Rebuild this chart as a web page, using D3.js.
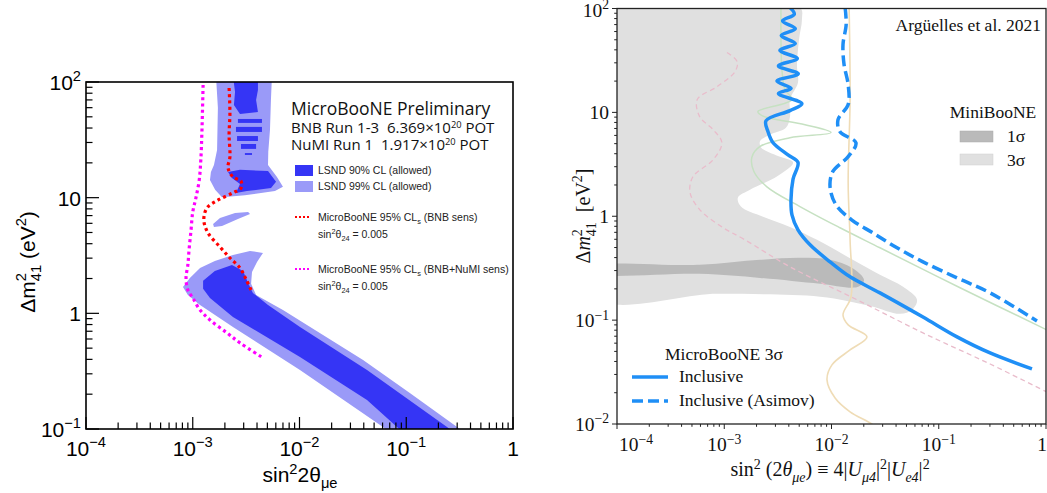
<!DOCTYPE html>
<html><head><meta charset="utf-8">
<script src="https://cdn.jsdelivr.net/npm/d3@7"></script>
<style>body{margin:0;background:#fff}svg{display:block}</style>
</head><body>
<svg id="c" width="1047" height="493"></svg>
<script>
// ================= DATA (left panel: MicroBooNE preliminary) =================
const leftXTicks = [1e-4, 1e-3, 1e-2, 1e-1, 1];
const leftXLabels = [["10","−4"],["10","−3"],["10","−2"],["10","−1"],["1",""]];
const leftYTicks = [0.1, 1, 10, 100];
const leftYLabels = [["10","−1"],["1",""],["10",""],["10","2"]];

// LSND 99% CL allowed (light) regions  [sin^2 2theta, dm2]
const lsnd99Lower = [[8.1e-4,1.69],[9.4e-4,2.02],[1.17e-3,2.47],[1.61e-3,2.84],[2.38e-3,3.2],[3.44e-3,3.46],[4.55e-3,3.33],[4.0e-3,2.78],[3.59e-3,2.28],[3.52e-3,1.80],[3.92e-3,1.44],[7.0e-3,1.07],[3.94e-2,0.395],[0.108,0.205],[0.318,0.1],[0.547,0.0715],[0.097,0.0715],[0.0605,0.104],[0.0101,0.324],[2.38e-3,0.762],[1.17e-3,1.18],[9.0e-4,1.44]];
const lsnd99Upper = [[1.65e-3,113],[5.52e-3,113],[5.4e-3,70],[5.29e-3,38.5],[5.1e-3,25],[5.07e-3,19.2],[6.15e-3,15.1],[7.0e-3,12.4],[5.89e-3,11.4],[3.08e-3,10.5],[1.88e-3,10.1],[1.62e-3,11.7],[1.45e-3,14.2],[1.48e-3,16.7],[1.58e-3,19.2],[1.69e-3,25.8],[1.72e-3,60]];
const lsnd99Island = [[1.55e-3,5.93],[1.80e-3,6.68],[2.49e-3,7.38],[3.30e-3,7.52],[3.44e-3,7.23],[2.65e-3,6.55],[1.88e-3,5.69],[1.58e-3,5.58]];
// LSND 90% CL allowed (dark) regions
const lsnd90Lower = [[1.25e-3,1.91],[1.61e-3,2.32],[2.33e-3,2.62],[2.96e-3,2.32],[3.30e-3,1.83],[3.66e-3,1.50],[5.07e-3,1.18],[1.01e-2,0.762],[4.29e-2,0.324],[0.241,0.104],[0.413,0.0715],[0.129,0.0715],[0.0819,0.104],[4.29e-2,0.178],[1.01e-2,0.42],[2.38e-3,0.93],[1.45e-3,1.36],[1.25e-3,1.63]];
const lsnd90Top = [[2.38e-3,113],[4.08e-3,113],[4.08e-3,85.3],[3.92e-3,69.8],[4.08e-3,55.1],[2.77e-3,52.8],[2.43e-3,63.2],[2.49e-3,82.0]];
const lsnd90Blob = [[2.14e-3,16.7],[2.77e-3,17.4],[5.07e-3,17.0],[6.03e-3,13.7],[5.41e-3,12.1],[3.22e-3,11.4],[2.54e-3,11.0],[2.77e-3,13.1],[2.33e-3,14.8]];
// dark horizontal stripes: [xmin, xmax, ymin, ymax]
const lsnd90Stripes = [[2.65e-3,4.45e-3,44.3,47.9],[2.54e-3,4.45e-3,37.0,40.9],[2.60e-3,4.08e-3,30.9,34.1],[2.83e-3,3.92e-3,26.4,29.1],[3.08e-3,3.59e-3,23.4,24.3]];
// MicroBooNE 95% CLs sensitivities
const bnbSens = [[2.19e-3,88.7],[2.23e-3,54.0],[2.19e-3,34.9],[2.23e-3,22.5],[2.14e-3,18.1],[2.38e-3,15.1],[2.83e-3,13.9],[2.83e-3,12.1],[2.38e-3,11.0],[1.73e-3,9.55],[1.36e-3,8.15],[1.27e-3,6.41],[1.39e-3,4.95],[1.80e-3,3.75],[2.23e-3,3.01],[2.77e-3,2.47],[3.15e-3,1.98],[3.52e-3,1.59]];
const bnbNumiSens = [[1.25e-3,94.2],[1.22e-3,38.5],[1.19e-3,21.2],[1.15e-3,14.2],[1.07e-3,9.93],[1.0e-3,7.52],[9.64e-4,5.26],[9.23e-4,3.53],[9.0e-4,2.62],[8.65e-4,2.02],[9.0e-4,1.59],[1.0e-3,1.36],[1.17e-3,1.07],[1.45e-3,0.877],[2.09e-3,0.678],[2.77e-3,0.555],[4.55e-3,0.412]];
const leftHeader = ["MicroBooNE Preliminary","BNB Run 1-3\u00a0\u00a06.369×10","NuMI Run 1\u00a0\u00a01.917×10"];
const leftLegend = ["LSND 90% CL (allowed)","LSND 99% CL (allowed)","MicroBooNE 95% CL","(BNB sens)","(BNB+NuMI sens)"];

// ================= DATA (right panel: Argüelles et al. 2021) =================
const rightXTicks = [1e-4, 1e-3, 1e-2, 1e-1, 1];
const rightXLabels = [["10","−4"],["10","−3"],["10","−2"],["10","−1"],["1",""]];
const rightYTicks = [1e-2, 1e-1, 1, 10, 100];
const rightYLabels = [["10","−2"],["10","−1"],["1",""],["10",""],["10","2"]];
const mb3sigma = [[5e-5,102],[5.08e-3,102],[5.3e-3,78.3],[4.98e-3,50.3],[4.77e-3,27.6],[4.87e-3,19.4],[4.1e-3,13.3],[4.1e-3,9.1],[3.76e-3,7.1],[2.67e-3,6.1],[2.16e-3,5.3],[2.2e-3,4.6],[3.17e-3,3.8],[4.38e-3,3.3],[3.17e-3,2.45],[1.74e-3,1.8],[1.34e-3,1.51],[1.43e-3,1.24],[2.3e-3,0.99],[4.1e-3,0.79],[7.33e-3,0.593],[1.58e-2,0.381],[2.83e-2,0.273],[4.65e-2,0.209],[6.27e-2,0.157],[5.63e-2,0.126],[4.36e-2,0.115],[2.29e-2,0.137],[7.82e-3,0.168],[9.1e-4,0.179],[5e-5,0.183]];
const mb1sigma = [[5e-5,0.326],[5.9e-4,0.341],[2.16e-3,0.381],[5.08e-3,0.398],[9.69e-3,0.381],[1.55e-2,0.319],[2.01e-2,0.244],[1.77e-2,0.209],[7.82e-3,0.224],[2.16e-3,0.255],[5.9e-4,0.279],[5e-5,0.285]];
const inclusive = [[4.1e-3,102],[4.5e-3,88],[3.5e-3,76],[4.6e-3,64],[3.4e-3,55],[4.6e-3,46],[3.3e-3,39.5],[4.8e-3,33],[3.2e-3,28],[4.9e-3,23.5],[3.1e-3,20],[4.2e-3,17],[3.2e-3,15.2],[5.3e-3,12.1],[4.1e-3,10.4],[2.45e-3,8.3],[2.56e-3,6.5],[2.85e-3,5.1],[3.93e-3,3.9],[4.87e-3,3.3],[4.38e-3,2.28],[4.19e-3,1.44],[4.28e-3,1.03],[4.87e-3,0.74],[6.31e-3,0.531],[9.69e-3,0.364],[1.49e-2,0.261],[2.83e-2,0.183],[7.13e-2,0.107],[0.148,0.069],[0.301,0.0483],[0.74,0.0339]];
const inclusiveAsimov = [[1.34e-2,102],[1.37e-2,70.1],[1.28e-2,45],[1.31e-2,28.8],[1.43e-2,18.5],[1.43e-2,11.9],[1.15e-2,8.5],[1.2e-2,6.5],[1.69e-2,5.1],[1.43e-2,3.75],[1.03e-2,2.7],[9.69e-3,1.92],[1.1e-2,1.29],[1.55e-2,0.92],[2.44e-2,0.69],[4.08e-2,0.497],[7.13e-2,0.364],[0.148,0.255],[0.301,0.183],[0.824,0.098]];
const faintGreen = [[3.38e-3,102],[3.38e-3,50.3],[3.45e-3,25.8],[3.68e-3,16.6],[4.28e-3,13.3],[2.06e-3,10.2],[2.25e-3,9.3],[5.66e-3,7.6],[9.89e-3,6.4],[4.1e-3,5.7],[2.16e-3,4.7],[1.81e-3,3.7],[1.89e-3,2.7],[2.5e-3,1.92],[5.08e-3,1.24],[1.2e-2,0.775],[2.83e-2,0.497],[0.158,0.205],[1.02,0.0805]];
const faintPink = [[1.06e-3,37.7],[1.32e-3,30.8],[1.26e-3,24.7],[8.6e-4,17.7],[5.6e-4,13.3],[5.9e-4,9.1],[7.9e-4,6.8],[9.5e-4,5.1],[7.9e-4,3.51],[5.1e-4,2.4],[4.8e-4,1.69],[5.9e-4,1.16],[9.5e-4,0.79],[1.56e-3,0.593],[4.1e-3,0.326],[1.73e-2,0.157],[7.13e-2,0.0753],[0.301,0.0378],[1.02,0.0203]];
const faintTan = [[1.46e-2,102],[1.49e-2,13.3],[1.43e-2,2.1],[1.49e-2,0.593],[1.52e-2,0.168],[1.28e-2,0.112],[1.43e-2,0.09],[2.14e-2,0.069],[1.49e-2,0.0517],[1.01e-2,0.0371],[9.08e-3,0.0266],[1.08e-2,0.0178],[1.49e-2,0.0131],[2.44e-2,0.0098],[2.83e-2,0.0084]];
const rightLegendTop = ["MiniBooNE","1σ","3σ"];
const rightLegendBottom = ["MicroBooNE 3σ","Inclusive","Inclusive (Asimov)"];
const citation = "Argüelles et al. 2021";

// ================= helpers =================
const svg = d3.select('#c');
const SANS = "'Liberation Sans', Arial, sans-serif";
const SERIF = "'Liberation Serif', 'Times New Roman', serif";
function rich(t, parts, base) {
  let shift = 0;
  parts.forEach(p => {
    const target = p.s === 'sup' ? -base*(p.r || 0.42) : p.s === 'sub' ? base*0.28 : 0;
    const ts = t.append('tspan').text(p.t);
    if (target - shift !== 0) ts.attr('dy', target - shift);
    if (p.dx) ts.attr('dx', p.dx);
    if (p.s) ts.attr('font-size', base*(p.k || 0.7));
    if (p.i) ts.attr('font-style', 'italic');
    shift = target;
  });
  return t;
}
const isMajor = v => Math.abs(Math.log10(v) - Math.round(Math.log10(v))) < 1e-6;

// ================= LEFT PANEL =================
const xL = d3.scaleLog().domain([1e-4, 1]).range([86, 513]);
const yL = d3.scaleLog().domain([0.1, 100]).range([429, 82]);
svg.append('clipPath').attr('id','clipL').append('rect')
  .attr('x', xL.range()[0]).attr('y', yL.range()[1])
  .attr('width', xL.range()[1]-xL.range()[0]).attr('height', yL.range()[0]-yL.range()[1]);
const gL = svg.append('g').attr('clip-path','url(#clipL)');
const polyL = d3.line().x(d=>xL(d[0])).y(d=>yL(d[1])).curve(d3.curveLinearClosed);
const lineL = d3.line().x(d=>xL(d[0])).y(d=>yL(d[1])).curve(d3.curveCatmullRom.alpha(0.5));
const LIGHT = '#9a9af8', DARK = '#3535f5';
[lsnd99Lower, lsnd99Upper, lsnd99Island].forEach(p => gL.append('path').attr('d', polyL(p)).attr('fill', LIGHT));
[lsnd90Lower, lsnd90Top, lsnd90Blob].forEach(p => gL.append('path').attr('d', polyL(p)).attr('fill', DARK));
gL.selectAll('rect.stripe').data(lsnd90Stripes).join('rect').attr('class','stripe')
  .attr('x', d=>xL(d[0])).attr('width', d=>xL(d[1])-xL(d[0]))
  .attr('y', d=>yL(d[3])).attr('height', d=>yL(d[2])-yL(d[3])).attr('fill', DARK);
gL.append('path').attr('d', lineL(bnbSens)).attr('fill','none').attr('stroke','#ff0000')
  .attr('stroke-width',3.2).attr('stroke-dasharray','3,3.2');
gL.append('path').attr('d', lineL(bnbNumiSens)).attr('fill','none').attr('stroke','#ff00ff')
  .attr('stroke-width',3.2).attr('stroke-dasharray','3,3.2');

// frame + ticks
svg.append('rect').attr('x',86).attr('y',82).attr('width',427).attr('height',347)
  .attr('fill','none').attr('stroke','#000').attr('stroke-width',1.6);
const tl = svg.append('g').attr('stroke','#000').attr('stroke-width',1.2);
yL.ticks().forEach(v => {
  const len = isMajor(v) ? 13 : 6.5;
  tl.append('line').attr('x1',86).attr('x2',86+len).attr('y1',yL(v)).attr('y2',yL(v));
});
xL.ticks().forEach(v => {
  const len = isMajor(v) ? 12 : 6.5;
  tl.append('line').attr('x1',xL(v)).attr('x2',xL(v)).attr('y1',429).attr('y2',429-len);
});
leftYTicks.forEach((v,i) => {
  const t = svg.append('text').attr('x',81).attr('y',yL(v)+8).attr('text-anchor','end')
    .attr('font-family',SANS).attr('font-size',21).attr('fill','#000');
  const parts = [{t:leftYLabels[i][0]}];
  if (leftYLabels[i][1]) parts.push({t:leftYLabels[i][1], s:'sup'});
  rich(t, parts, 21);
});
leftXTicks.forEach((v,i) => {
  const t = svg.append('text').attr('x',xL(v)).attr('y',456).attr('text-anchor','middle')
    .attr('font-family',SANS).attr('font-size',21).attr('fill','#000');
  const parts = [{t:leftXLabels[i][0]}];
  if (leftXLabels[i][1]) parts.push({t:leftXLabels[i][1], s:'sup'});
  rich(t, parts, 21);
});
// axis titles
rich(svg.append('text').attr('x',300).attr('y',482).attr('text-anchor','middle')
  .attr('font-family',SANS).attr('font-size',21),
  [{t:'sin'},{t:'2',s:'sup',r:0.38},{t:'2θ'},{t:'μe',s:'sub'}], 21);
rich(svg.append('text').attr('transform','translate(35,262) rotate(-90)').attr('text-anchor','middle')
  .attr('font-family',SANS).attr('font-size',21),
  [{t:'Δm'},{t:'2',s:'sup'},{t:'41',s:'sub',dx:-8},{t:' (eV'},{t:'2',s:'sup'},{t:')'}], 21);

// header & legend
const HF = "'Open Sans','Noto Sans',sans-serif";
svg.append('text').attr('x',291).attr('y',115).attr('font-family',HF).attr('font-size',17.5).attr('fill','#111').text(leftHeader[0]);
rich(svg.append('text').attr('x',291).attr('y',133).attr('font-family',HF).attr('font-size',15).attr('fill','#111'),
  [{t:leftHeader[1]},{t:'20',s:'sup',k:0.62,r:0.35},{t:' POT'}], 15);
rich(svg.append('text').attr('x',291).attr('y',150).attr('font-family',HF).attr('font-size',15).attr('fill','#111'),
  [{t:leftHeader[2]},{t:'20',s:'sup',k:0.62,r:0.35},{t:' POT'}], 15);
svg.append('rect').attr('x',295).attr('y',165).attr('width',18).attr('height',11).attr('fill',DARK);
svg.append('rect').attr('x',295).attr('y',181).attr('width',18).attr('height',11).attr('fill',LIGHT);
const LF = 10.5;
svg.append('text').attr('x',318).attr('y',174).attr('font-family',SANS).attr('font-size',LF).attr('fill','#222').text(leftLegend[0]);
svg.append('text').attr('x',318).attr('y',190).attr('font-family',SANS).attr('font-size',LF).attr('fill','#222').text(leftLegend[1]);
[[217,'#ff0000',leftLegend[3]],[269,'#ff00ff',leftLegend[4]]].forEach(([y,c,lab]) => {
  svg.append('line').attr('x1',295).attr('x2',311).attr('y1',y).attr('y2',y)
    .attr('stroke',c).attr('stroke-width',2).attr('stroke-dasharray','2,2');
  rich(svg.append('text').attr('x',318).attr('y',y+4).attr('font-family',SANS).attr('font-size',LF).attr('fill','#222'),
    [{t:leftLegend[2]},{t:'s',s:'sub'},{t:' '+lab}], LF);
  rich(svg.append('text').attr('x',318).attr('y',y+21).attr('font-family',SANS).attr('font-size',LF).attr('fill','#222'),
    [{t:'sin'},{t:'2',s:'sup'},{t:'θ'},{t:'24',s:'sub'},{t:' = 0.005'}], LF);
});

// ================= RIGHT PANEL =================
const xR = d3.scaleLog().domain([1e-4, 1]).range([617, 1046]);
const yR = d3.scaleLog().domain([1e-2, 1e2]).range([424, 8.5]);
svg.append('clipPath').attr('id','clipR').append('rect')
  .attr('x', 617).attr('y', 8.5).attr('width', 429).attr('height', 415.5);
const gR = svg.append('g').attr('clip-path','url(#clipR)');
const polyR = d3.line().x(d=>xR(d[0])).y(d=>yR(d[1])).curve(d3.curveCatmullRomClosed.alpha(0.5));
const lineR = d3.line().x(d=>xR(d[0])).y(d=>yR(d[1])).curve(d3.curveCatmullRom.alpha(0.5));
gR.append('path').attr('d', polyR(mb3sigma)).attr('fill','#e0e0e0');
gR.append('path').attr('d', polyR(mb1sigma)).attr('fill','#bababa');
gR.append('path').attr('d', lineR(faintPink)).attr('fill','none').attr('stroke','#e9bccb').attr('stroke-width',1.3).attr('stroke-dasharray','5,3.5');
gR.append('path').attr('d', lineR(faintGreen)).attr('fill','none').attr('stroke','#c6e1c2').attr('stroke-width',1.5);
gR.append('path').attr('d', lineR(faintTan)).attr('fill','none').attr('stroke','#efdcb6').attr('stroke-width',1.6);
const BLUE = '#1f8ff6';
gR.append('path').attr('d', lineR(inclusive)).attr('fill','none').attr('stroke',BLUE).attr('stroke-width',3.5).attr('stroke-linejoin','round');
gR.append('path').attr('d', lineR(inclusiveAsimov)).attr('fill','none').attr('stroke',BLUE).attr('stroke-width',3.5).attr('stroke-dasharray','11,5');

// frame + ticks
svg.append('rect').attr('x',617).attr('y',8.5).attr('width',429).attr('height',415.5)
  .attr('fill','none').attr('stroke','#222').attr('stroke-width',1.3);
const tr = svg.append('g').attr('stroke','#222').attr('stroke-width',1);
yR.ticks().forEach(v => {
  const len = isMajor(v) ? 5 : 2.8;
  tr.append('line').attr('x1',617).attr('x2',617-len).attr('y1',yR(v)).attr('y2',yR(v));
});
xR.ticks().forEach(v => {
  const len = isMajor(v) ? 5 : 2.8;
  tr.append('line').attr('x1',xR(v)).attr('x2',xR(v)).attr('y1',424).attr('y2',424+len);
});
const TF = 19.5;
rightYTicks.forEach((v,i) => {
  const t = svg.append('text').attr('x',609).attr('y',yR(v)+(i===rightYTicks.length-1 ? 8 : 6.5)).attr('text-anchor','end')
    .attr('font-family',SERIF).attr('font-size',TF).attr('fill','#111');
  const parts = [{t:rightYLabels[i][0]}];
  if (rightYLabels[i][1]) parts.push({t:rightYLabels[i][1], s:'sup', r:0.36});
  rich(t, parts, TF);
});
rightXTicks.forEach((v,i) => {
  const first = i === 0, last = i === rightXTicks.length-1;
  const t = svg.append('text').attr('x', first ? xR(v)+2 : last ? 1047 : xR(v)).attr('y',451)
    .attr('text-anchor', first ? 'start' : last ? 'end' : 'middle')
    .attr('font-family',SERIF).attr('font-size',TF).attr('fill','#111');
  const parts = [{t:rightXLabels[i][0]}];
  if (rightXLabels[i][1]) parts.push({t:rightXLabels[i][1], s:'sup', r:0.36});
  rich(t, parts, TF);
});
rich(svg.append('text').attr('x',830).attr('y',476).attr('text-anchor','middle')
  .attr('font-family',SERIF).attr('font-size',20).attr('fill','#111'),
  [{t:'sin'},{t:'2',s:'sup',r:0.36},{t:'\u00a0(2'},{t:'θ',i:1},{t:'μe',s:'sub',i:1},{t:')\u00a0≡\u00a04|'},{t:'U',i:1},{t:'μ4',s:'sub',i:1},
   {t:'|'},{t:'2',s:'sup',r:0.36},{t:'|'},{t:'U',i:1},{t:'e4',s:'sub',i:1},{t:'|'},{t:'2',s:'sup',r:0.36}], 20);
rich(svg.append('text').attr('transform','translate(590,216) rotate(-90)').attr('text-anchor','middle')
  .attr('font-family',SERIF).attr('font-size',20).attr('fill','#111'),
  [{t:'Δ'},{t:'m',i:1},{t:'2',s:'sup'},{t:'41',s:'sub',dx:-7},{t:'\u00a0\u00a0[eV'},{t:'2',s:'sup'},{t:']'}], 20);

// legends
const LGF = 17.5;
svg.append('text').attr('x',1041).attr('y',31).attr('text-anchor','end').attr('font-family',SERIF).attr('font-size',LGF).attr('fill','#111').text(citation);
svg.append('text').attr('x',993).attr('y',118).attr('text-anchor','middle').attr('font-family',SERIF).attr('font-size',LGF).attr('fill','#111').text(rightLegendTop[0]);
svg.append('rect').attr('x',960).attr('y',131).attr('width',33).attr('height',11).attr('fill','#bababa').attr('stroke','#aaa').attr('stroke-width',0.5);
svg.append('rect').attr('x',960).attr('y',154).attr('width',33).attr('height',11).attr('fill','#e0e0e0').attr('stroke','#d0d0d0').attr('stroke-width',0.5);
svg.append('text').attr('x',1007).attr('y',142).attr('font-family',SERIF).attr('font-size',LGF).attr('fill','#111').text(rightLegendTop[1]);
svg.append('text').attr('x',1007).attr('y',166).attr('font-family',SERIF).attr('font-size',LGF).attr('fill','#111').text(rightLegendTop[2]);
svg.append('text').attr('x',665).attr('y',360).attr('font-family',SERIF).attr('font-size',LGF).attr('fill','#111').text(rightLegendBottom[0]);
svg.append('line').attr('x1',632).attr('x2',668).attr('y1',377).attr('y2',377).attr('stroke',BLUE).attr('stroke-width',3.5);
svg.append('line').attr('x1',632).attr('x2',668).attr('y1',401).attr('y2',401).attr('stroke',BLUE).attr('stroke-width',3.5).attr('stroke-dasharray','11,5');
svg.append('text').attr('x',679).attr('y',382).attr('font-family',SERIF).attr('font-size',LGF).attr('fill','#111').text(rightLegendBottom[1]);
svg.append('text').attr('x',679).attr('y',406).attr('font-family',SERIF).attr('font-size',LGF).attr('fill','#111').text(rightLegendBottom[2]);
</script>
</body></html>
